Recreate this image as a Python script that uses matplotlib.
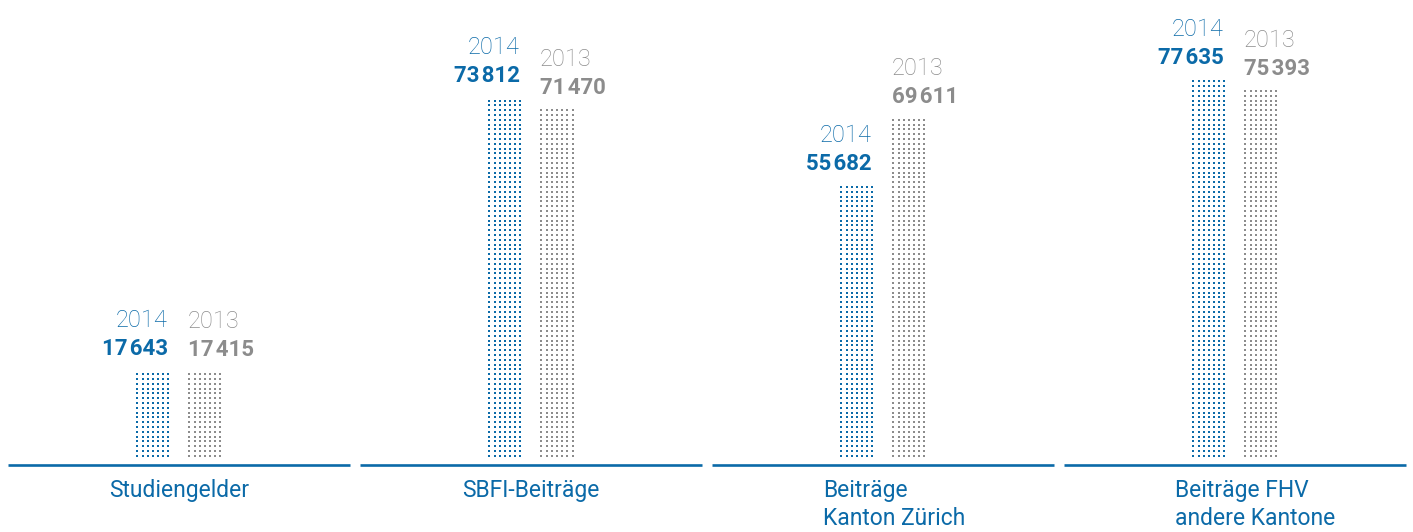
import matplotlib.pyplot as plt
import numpy as np

# data (CHF thousands)
categories = ["Studiengelder", "SBFI-Beiträge", "Beiträge\nKanton Zürich", "Beiträge FHV\nandere Kantone"]
years = ["2014", "2013"]
values_2014 = [17643, 73812, 55682, 77635]
values_2013 = [17415, 71470, 69611, 75393]

blue = "#0b6aa8"
grey = "#8c8c8c"
fam = ["Roboto", "DejaVu Sans"]

# layout in pixels
W, H = 1413, 532
base_px = 457
px_per_unit = 0.00486
group_px = 352
first_px = 179


def fmt(v):
    return f"{v:,}".replace(",", "\u200a")


fig = plt.figure(figsize=(W / 100, H / 100), dpi=100)
ax = fig.add_axes([0, (H - base_px) / H, 1, base_px / H])
ax.set_xlim(-first_px / group_px, (W - first_px) / group_px)
ax.set_ylim(0, base_px / px_per_unit)
ax.axis("off")

unit = 1.0 / group_px  # one pixel in x data units
bar_w = 34 * unit
offset = 26 * unit
row_step = 4.8 / px_per_unit
row_start = 1.2 / px_per_unit

for i, cat in enumerate(categories):
    for j, (vals, col) in enumerate([(values_2014, blue), (values_2013, grey)]):
        v = vals[i]
        xc = i + (-offset if j == 0 else offset)
        left, right = xc - bar_w / 2, xc + bar_w / 2
        xs = np.linspace(left + 1.5 * unit, right - 1.5 * unit, 7)
        ys = np.arange(row_start, v, row_step)
        gx, gy = np.meshgrid(xs, ys)
        ax.scatter(gx.ravel(), gy.ravel(), s=3.0, marker="s", color=col, linewidths=0)

        ha = "right" if j == 0 else "left"
        xt = right - 2 * unit if j == 0 else left
        ax.annotate(years[j], xy=(xt, v), xytext=(0, 44 * 0.72), textcoords="offset points",
                    ha=ha, va="baseline", fontsize=17, color=col, family=fam, weight="light")
        ax.annotate(fmt(v), xy=(xt, v), xytext=(0, 16 * 0.72), textcoords="offset points",
                    ha=ha, va="baseline", fontsize=16, color=col, family=fam, weight="bold")

    # baseline segment under each group
    ax.hlines(-8 / px_per_unit, i - 171 * unit, i + 171 * unit, color=blue, lw=1.9, clip_on=False)
    lines = cat.split("\n")
    for k, line in enumerate(lines):
        # two-line labels sit as a left-aligned block
        if len(lines) == 1:
            ha, dx = "center", 0
        else:
            ha, dx = "left", -60 * 0.72
        ax.annotate(line, xy=(i, 0), xytext=(dx, -(40 + 28 * k) * 0.72), textcoords="offset points",
                    ha=ha, va="baseline", fontsize=16.5, color=blue, family=fam, annotation_clip=False)

fig.savefig("out.png", dpi=100)
